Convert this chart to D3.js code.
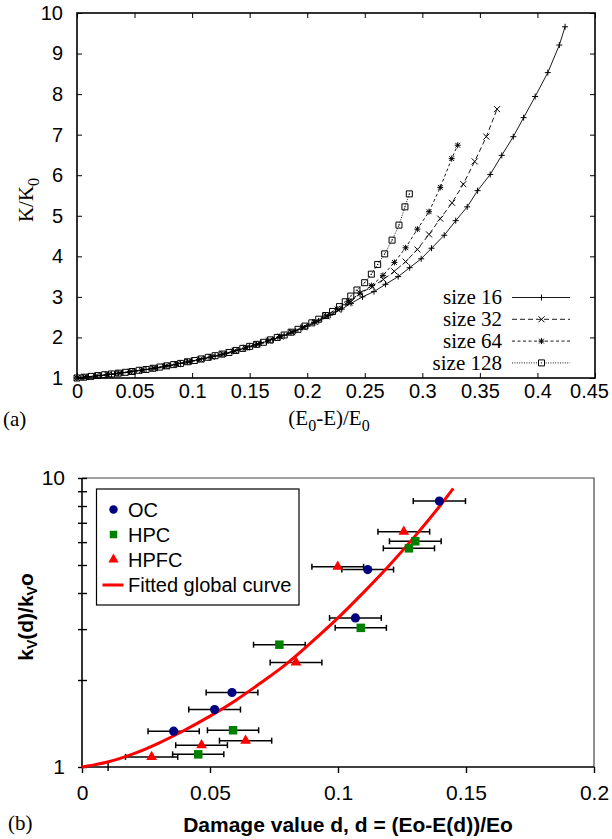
<!DOCTYPE html>
<html>
<head>
<meta charset="utf-8">
<script src="https://cdn.jsdelivr.net/npm/d3@7"></script>
<style>
  body { margin: 0; background: #fff; }
  svg { display: block; }
</style>
</head>
<body>
<svg id="main-svg" width="612" height="839"></svg>
<script>
'use strict';

// ---------- (a) K/K0 vs (E0-E)/E0 ----------
const topXTicks = [0, 0.05, 0.1, 0.15, 0.2, 0.25, 0.3, 0.35, 0.4, 0.45];
const topYTicks = [1, 2, 3, 4, 5, 6, 7, 8, 9, 10];
const topNames = ['size 16', 'size 32', 'size 64', 'size 128'];

const size16X = [0, 0.01, 0.02, 0.03, 0.04, 0.05, 0.06, 0.07, 0.08, 0.09, 0.10, 0.11, 0.12,
    0.13, 0.14, 0.15, 0.16, 0.17, 0.18, 0.19, 0.20, 0.21, 0.22, 0.23, 0.238, 0.248, 0.258,
    0.268, 0.279, 0.289, 0.299, 0.308, 0.319, 0.329, 0.339, 0.348, 0.359, 0.369, 0.379,
    0.388, 0.398, 0.409, 0.419, 0.424];
const size16K = [1.00, 1.03, 1.06, 1.09, 1.13, 1.17, 1.21, 1.25, 1.30, 1.36, 1.42, 1.48, 1.54,
    1.61, 1.69, 1.77, 1.86, 1.95, 2.05, 2.16, 2.28, 2.41, 2.55, 2.70, 2.84, 3.00, 3.13,
    3.31, 3.50, 3.72, 3.94, 4.20, 4.52, 4.88, 5.22, 5.62, 6.02, 6.49, 6.95,
    7.42, 7.94, 8.53, 9.21, 9.66];

const size32X = [0, 0.007, 0.017, 0.027, 0.037, 0.047, 0.057, 0.067, 0.077, 0.087, 0.097, 0.107,
    0.117, 0.127, 0.137, 0.147, 0.157, 0.167, 0.177, 0.187, 0.197, 0.207, 0.217, 0.227, 0.237,
    0.2461, 0.2565, 0.2661, 0.2757, 0.2855, 0.2957, 0.3058, 0.3156, 0.3258, 0.3356, 0.3455,
    0.3556, 0.3649];
const size32K = [1.00, 1.02, 1.05, 1.08, 1.12, 1.16, 1.20, 1.24, 1.29, 1.34, 1.40, 1.46,
    1.52, 1.59, 1.67, 1.75, 1.83, 1.92, 2.02, 2.13, 2.25, 2.38, 2.52, 2.68, 2.86,
    3.09, 3.25, 3.43, 3.63, 3.87, 4.17, 4.54, 4.93, 5.32, 5.78, 6.34,
    6.95, 7.63];

const size64X = [0, 0.006, 0.016, 0.026, 0.036, 0.046, 0.056, 0.066, 0.076, 0.086, 0.096, 0.106,
    0.116, 0.126, 0.136, 0.146, 0.156, 0.166, 0.176, 0.186, 0.196, 0.206, 0.216, 0.226, 0.236,
    0.2459, 0.2560, 0.2658, 0.2757, 0.2855, 0.2957, 0.3058, 0.3156, 0.3255, 0.3307];
const size64K = [1.00, 1.02, 1.05, 1.08, 1.12, 1.15, 1.19, 1.24, 1.29, 1.34, 1.40, 1.45,
    1.52, 1.58, 1.66, 1.74, 1.83, 1.92, 2.02, 2.13, 2.25, 2.38, 2.53, 2.70, 2.89,
    3.09, 3.28, 3.53, 3.85, 4.21, 4.67, 5.10, 5.70, 6.41, 6.74];

const size128X = [0, 0.006, 0.012, 0.018, 0.024, 0.030, 0.036, 0.042, 0.048, 0.054, 0.060,
    0.066, 0.072, 0.078, 0.084, 0.090, 0.096, 0.102, 0.108, 0.114, 0.120, 0.126, 0.132,
    0.138, 0.144, 0.150, 0.156, 0.162, 0.168, 0.174, 0.180, 0.186, 0.192, 0.198, 0.204,
    0.210, 0.216, 0.222, 0.228, 0.233, 0.2378, 0.2432, 0.2499, 0.2557, 0.2612, 0.2673,
    0.2737, 0.2797, 0.2849, 0.2887];
const size128K = [1.00, 1.02, 1.04, 1.06, 1.08, 1.10, 1.12, 1.14, 1.16, 1.19, 1.21,
    1.24, 1.27, 1.30, 1.33, 1.36, 1.40, 1.43, 1.47, 1.51, 1.55, 1.59, 1.63,
    1.68, 1.73, 1.78, 1.83, 1.88, 1.94, 2.00, 2.06, 2.13, 2.20, 2.28, 2.36,
    2.45, 2.54, 2.64, 2.76, 2.88, 3.02, 3.17, 3.35, 3.56, 3.80, 4.06,
    4.40, 4.77, 5.22, 5.54];

// ---------- (b) kv(d)/kvo vs damage ----------
const botXTicks = [0, 0.05, 0.1, 0.15, 0.2];
const botXLabels = ['0', '0.05', '0.1', '0.15', '0.2'];
const botYTicks = [1, 2, 3, 4, 5, 6, 7, 8, 9, 10];
const botNames = ['OC', 'HPC', 'HPFC', 'Fitted global curve'];

const ocD = [0.1396, 0.1116, 0.1068, 0.0586, 0.0518, 0.0358];
const ocK = [8.32, 4.82, 3.28, 1.81, 1.58, 1.33];
const ocErr = [0.0102, 0.0101, 0.0101, 0.0101, 0.0101, 0.0100];

const hpcD = [0.1302, 0.1277, 0.1089, 0.0771, 0.0590, 0.0454];
const hpcK = [6.04, 5.71, 3.03, 2.65, 1.34, 1.106];
const hpcErr = [0.0101, 0.0100, 0.0100, 0.0101, 0.0100, 0.0100];

const hpfcD = [0.1257, 0.0999, 0.0836, 0.0639, 0.0467, 0.0272];
const hpfcK = [6.52, 4.93, 2.30, 1.233, 1.19, 1.084];
const hpfcErr = [0.0101, 0.0101, 0.0101, 0.0102, 0.0101, 0.0102];

const fitD = [0, 0.01, 0.02, 0.03, 0.04, 0.05, 0.06, 0.07, 0.08, 0.09, 0.10, 0.11, 0.12,
    0.13, 0.14, 0.145];
const fitK = [1.00, 1.04, 1.11, 1.21, 1.34, 1.50, 1.70, 1.96, 2.28, 2.72, 3.28, 4.02, 4.98,
    6.28, 8.05, 9.2];


const svg = d3.select('#main-svg');
const serif = '"Liberation Serif", "Times New Roman", Times, serif';
const sans = '"Liberation Sans", Arial, Helvetica, sans-serif';

const zip = (xs, ys) => xs.map((v, i) => [v, ys[i]]);

// ====================== chart (a) ======================
const drawTop = () => {
    const L = 77, R = 595, T = 13, B = 378;
    const x = d3.scaleLinear().domain([0, 0.45]).range([L, R]);
    const y = d3.scaleLinear().domain([1, 10]).range([B, T]);
    const g = svg.append('g').attr('font-family', serif);

    // inward ticks on all sides
    const ax = (axis, tr) => {
        const a = g.append('g').attr('transform', tr).call(axis);
        a.select('.domain').remove();
        a.selectAll('.tick line').attr('stroke', '#000').attr('stroke-width', 1);
        a.selectAll('.tick text').attr('font-size', 20).attr('fill', '#000');
        return a;
    };
    const xa = ax(d3.axisBottom(x).tickValues(topXTicks).tickSize(-5).tickSizeOuter(0).tickPadding(6)
        .tickFormat(d => String(d)), `translate(0,${B})`);
    // last label sits a bit left so it stays inside the page
    xa.selectAll('.tick text').filter(d => d == 0.45).attr('x', -6);
    ax(d3.axisTop(x).tickValues(topXTicks).tickSize(-5).tickSizeOuter(0).tickFormat(''),
        `translate(0,${T})`);
    ax(d3.axisLeft(y).tickValues(topYTicks).tickSize(-5).tickSizeOuter(0).tickPadding(14)
        .tickFormat(d => String(d)), `translate(${L},0)`);
    ax(d3.axisRight(y).tickValues(topYTicks).tickSize(-5).tickSizeOuter(0).tickFormat(''),
        `translate(${R},0)`);

    g.append('rect')
        .attr('x', L).attr('y', T).attr('width', R - L).attr('height', B - T)
        .attr('fill', 'none').attr('stroke', '#000').attr('stroke-width', 1.6);

    const series = [
        {name: topNames[0], pts: zip(size16X, size16K), dash: null, mark: 'plus'},
        {name: topNames[1], pts: zip(size32X, size32K), dash: '5,3', mark: 'cross'},
        {name: topNames[2], pts: zip(size64X, size64K), dash: '3,2.5', mark: 'star'},
        {name: topNames[3], pts: zip(size128X, size128K), dash: '1,1.4', mark: 'square'},
    ];

    const markPath = {
        plus: 'M-3,0H3M0,-3V3',
        cross: 'M-3,-3L3,3M-3,3L3,-3',
        star: 'M-3,0H3M0,-3V3M-2.4,-2.4L2.4,2.4M-2.4,2.4L2.4,-2.4',
        square: 'M-3,-3H3V3H-3ZM-0.6,0H0.6',
    };

    const line = d3.line().x(d => x(d[0])).y(d => y(d[1]));

    series.forEach(s => {
        g.append('path')
            .attr('d', line(s.pts))
            .attr('fill', 'none').attr('stroke', '#000').attr('stroke-width', 0.9)
            .attr('stroke-dasharray', s.dash);
        g.append('g').selectAll('path')
            .data(s.pts)
            .enter().append('path')
            .attr('transform', d => `translate(${x(d[0])},${y(d[1])})`)
            .attr('d', markPath[s.mark])
            .attr('fill', 'none').attr('stroke', '#000').attr('stroke-width', 1);
    });

    // legend
    const lg = g.append('g');
    series.forEach((s, i) => {
        const yy = 297.5 + i * 21.8;
        lg.append('text')
            .attr('x', 502).attr('y', yy).attr('dy', '0.33em')
            .attr('text-anchor', 'end').attr('font-size', 21).text(s.name);
        lg.append('line')
            .attr('x1', 512).attr('x2', 570).attr('y1', yy).attr('y2', yy)
            .attr('stroke', '#000').attr('stroke-width', 0.9)
            .attr('stroke-dasharray', s.dash);
        lg.append('path')
            .attr('transform', `translate(541.5,${yy})`)
            .attr('d', markPath[s.mark])
            .attr('fill', s.mark == 'square' ? '#fff' : 'none')
            .attr('stroke', '#000').attr('stroke-width', 1);
    });

    // axis titles
    const yl = g.append('text')
        .attr('transform', 'translate(33,200) rotate(-90)')
        .attr('text-anchor', 'middle').attr('font-size', 21);
    yl.append('tspan').text('K/K');
    yl.append('tspan').attr('font-size', 16).attr('dy', 6).text('0');

    const xl = g.append('text')
        .attr('x', 329).attr('y', 425)
        .attr('text-anchor', 'middle').attr('font-size', 21);
    xl.append('tspan').text('(E');
    xl.append('tspan').attr('font-size', 16).attr('dy', 6).text('0');
    xl.append('tspan').attr('dy', -6).text('-E)/E');
    xl.append('tspan').attr('font-size', 16).attr('dy', 6).text('0');

    g.append('text').attr('x', 3).attr('y', 426).attr('font-size', 21).text('(a)');
};

// ====================== chart (b) ======================
const drawBottom = () => {
    const L = 82, R = 594, T = 478, B = 767;
    const x = d3.scaleLinear().domain([0, 0.2]).range([L, R]);
    const y = d3.scaleLog().domain([1, 10]).range([B, T]);
    const g = svg.append('g').attr('font-family', sans);

    // frame (top/right lighter)
    g.append('path')
        .attr('d', `M${L},${T}H${R}V${B}`)
        .attr('fill', 'none').attr('stroke', '#444').attr('stroke-width', 1.2);

    const xa = g.append('g').attr('transform', `translate(0,${B})`)
        .call(d3.axisBottom(x).tickValues(botXTicks).tickSize(6).tickSizeOuter(0).tickPadding(12)
            .tickFormat((d, i) => botXLabels[i]));
    xa.select('.domain').remove();
    xa.selectAll('.tick line').attr('stroke', '#000').attr('stroke-width', 1.4);
    xa.selectAll('.tick text').attr('font-size', 21).attr('fill', '#000');

    // lone minor tick near d = 0.01
    const xm = g.append('g').attr('transform', `translate(0,${B})`)
        .call(d3.axisBottom(x).tickValues([0.01]).tickSize(4).tickSizeOuter(0).tickFormat(''));
    xm.select('.domain').remove();
    xm.selectAll('.tick line').attr('stroke', '#000').attr('stroke-width', 1.4).attr('y1', -4);

    const ya = g.append('g').attr('transform', `translate(${L},0)`)
        .call(d3.axisLeft(y).tickValues(botYTicks).tickSize(4).tickSizeOuter(0).tickPadding(13)
            .tickFormat(d => (d == 1 || d == 10) ? String(d) : ''));
    ya.select('.domain').remove();
    ya.selectAll('.tick line').attr('stroke', '#000').attr('stroke-width', 1.4).attr('x1', 5);
    ya.selectAll('.tick text').attr('font-size', 21).attr('fill', '#000');

    g.append('line').attr('x1', L).attr('x2', L).attr('y1', T).attr('y2', B)
        .attr('stroke', '#000').attr('stroke-width', 1.6);
    g.append('line').attr('x1', L).attr('x2', R).attr('y1', B).attr('y2', B)
        .attr('stroke', '#000').attr('stroke-width', 1.6);

    const groups = [
        {name: botNames[0], d: ocD, k: ocK, e: ocErr, color: '#000080', sym: d3.symbolCircle, size: 66},
        {name: botNames[1], d: hpcD, k: hpcK, e: hpcErr, color: '#008000', sym: d3.symbolSquare, size: 72},
        {name: botNames[2], d: hpfcD, k: hpfcK, e: hpfcErr, color: '#ff0000', sym: d3.symbolTriangle, size: 50},
    ];

    // error bars
    groups.forEach(s => {
        const eb = g.append('g').attr('stroke', '#000').attr('stroke-width', 1.5);
        s.d.forEach((dv, i) => {
            const x0 = x(dv - s.e[i]), x1 = x(dv + s.e[i]), yy = y(s.k[i]);
            eb.append('line').attr('x1', x0).attr('x2', x1).attr('y1', yy).attr('y2', yy);
            eb.append('line').attr('x1', x0).attr('x2', x0).attr('y1', yy - 3).attr('y2', yy + 3);
            eb.append('line').attr('x1', x1).attr('x2', x1).attr('y1', yy - 3).attr('y2', yy + 3);
        });
    });

    // fitted curve
    g.append('path')
        .attr('d', d3.line().curve(d3.curveMonotoneX)
            .x(d => x(d[0])).y(d => y(d[1]))(zip(fitD, fitK)))
        .attr('fill', 'none').attr('stroke', '#ff0000').attr('stroke-width', 3);

    // markers
    groups.forEach(s => {
        g.append('g').selectAll('path')
            .data(zip(s.d, s.k))
            .enter().append('path')
            .attr('transform', d => `translate(${x(d[0])},${y(d[1])})`)
            .attr('d', d3.symbol().type(s.sym).size(s.size))
            .attr('fill', s.color);
    });

    // legend
    const lg = g.append('g');
    lg.append('rect')
        .attr('x', 96.5).attr('y', 489).attr('width', 202.5).attr('height', 116)
        .attr('fill', '#fff').attr('stroke', '#000').attr('stroke-width', 1.2);
    const rowsY = [509.5, 534.5, 559.5, 585];
    groups.forEach((s, i) => {
        lg.append('path')
            .attr('transform', `translate(113.5,${rowsY[i]})`)
            .attr('d', d3.symbol().type(s.sym).size(s.sym === d3.symbolTriangle ? 46 : 56))
            .attr('fill', s.color);
    });
    lg.append('line')
        .attr('x1', 102.5).attr('x2', 123.5).attr('y1', rowsY[3]).attr('y2', rowsY[3])
        .attr('stroke', '#ff0000').attr('stroke-width', 3);
    botNames.forEach((n, i) => {
        lg.append('text')
            .attr('x', 128).attr('y', rowsY[i]).attr('dy', '0.36em')
            .attr('font-size', 20).text(n);
    });

    // axis titles
    const yl = g.append('text')
        .attr('transform', 'translate(33,617) rotate(-90)')
        .attr('text-anchor', 'middle').attr('font-size', 21).attr('font-weight', 'bold');
    yl.append('tspan').text('k');
    yl.append('tspan').attr('font-size', 14).attr('dy', 4).text('V');
    yl.append('tspan').attr('dy', -4).text('(d)/k');
    yl.append('tspan').attr('font-size', 14).attr('dy', 4).text('V');
    yl.append('tspan').attr('dy', -4).text('o');

    g.append('text')
        .attr('x', 348).attr('y', 832)
        .attr('text-anchor', 'middle').attr('font-size', 21).attr('font-weight', 'bold')
        .text('Damage value d, d = (Eo-E(d))/Eo');

    g.append('text').attr('x', 8).attr('y', 830)
        .attr('font-family', serif).attr('font-size', 21).text('(b)');
};

drawTop();
drawBottom();
</script>
</body>
</html>
